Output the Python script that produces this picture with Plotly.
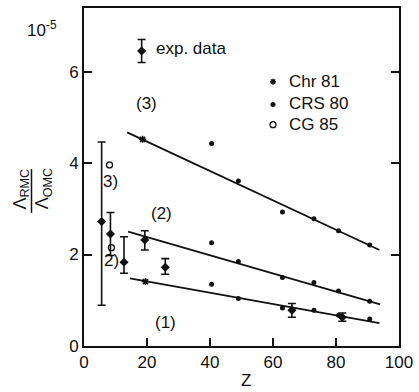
import plotly.graph_objects as go

# ---------------- data (Z, ratio in units of 1e-5) ----------------
# fitted lines (end points)
line1_z = [14.6, 93.8]
line1_y = [1.48, 0.50]
line2_z = [14.0, 94.0]
line2_y = [2.50, 0.91]
line3_z = [13.7, 93.8]
line3_y = [4.67, 2.10]

# Chr 81 (stars)
chr_z = [18.6, 19.5]
chr_y = [4.52, 1.41]

# CRS 80 (dots)
crs_z = [40.5, 49, 63, 73, 80.8, 90.7,
         40.5, 49, 63, 73, 80.8, 90.7,
         40.5, 49, 63, 73, 80.8, 90.7]
crs_y = [4.43, 3.61, 2.93, 2.78, 2.52, 2.21,
         2.26, 1.85, 1.50, 1.39, 1.20, 0.98,
         1.35, 1.04, 0.83, 0.78, 0.67, 0.59]

# CG 85 (open circles)
cg_z = [8.1, 8.7]
cg_y = [3.96, 2.15]

# experimental data with error bars
exp_z = [5.6, 8.4, 12.7, 19.3, 25.8, 66.0, 82.0]
exp_y = [2.72, 2.45, 1.83, 2.32, 1.72, 0.78, 0.63]
exp_up = [1.74, 0.47, 0.56, 0.20, 0.19, 0.15, 0.09]
exp_dn = [1.83, 0.47, 0.24, 0.22, 0.15, 0.15, 0.09]

x_ticks = [0, 20, 40, 60, 80, 100]
y_ticks = [0, 2, 4, 6]

# ---------------- layout helpers ----------------
FIG_W, FIG_H = 419, 392
ML, MR, MT, MB = 84, 17, 6, 46
PW, PH = FIG_W - ML - MR, FIG_H - MT - MB


def px(x):
    return (x - ML) / PW


def py(y):
    return (FIG_H - MB - y) / PH


FONT = "Liberation Sans"
BLACK = "#111111"

fig = go.Figure()

for zz, yy in [(line1_z, line1_y), (line2_z, line2_y), (line3_z, line3_y)]:
    fig.add_trace(go.Scatter(x=zz, y=yy, mode="lines",
                             line=dict(color=BLACK, width=1.8),
                             showlegend=False, hoverinfo="skip"))

fig.add_trace(go.Scatter(x=crs_z, y=crs_y, mode="markers",
                         marker=dict(color=BLACK, size=5),
                         showlegend=False))
fig.add_trace(go.Scatter(x=chr_z, y=chr_y, mode="markers",
                         marker=dict(symbol="asterisk-open", size=6, color=BLACK,
                                     line=dict(color=BLACK, width=1.6)),
                         showlegend=False))
fig.add_trace(go.Scatter(x=cg_z, y=cg_y, mode="markers",
                         marker=dict(symbol="circle-open", size=6, color=BLACK,
                                     line=dict(color=BLACK, width=1.3)),
                         showlegend=False))
fig.add_trace(go.Scatter(x=exp_z, y=exp_y, mode="markers",
                         marker=dict(symbol="diamond", size=7, color=BLACK),
                         error_y=dict(type="data", symmetric=False,
                                      array=exp_up, arrayminus=exp_dn,
                                      color=BLACK, thickness=1.6, width=4),
                         showlegend=False))

# legend keys
key_z = [18.3]
key_y = [6.45]
fig.add_trace(go.Scatter(x=key_z, y=key_y, mode="markers",
                         marker=dict(symbol="diamond", size=7, color=BLACK),
                         error_y=dict(type="data", array=[0.25],
                                      color=BLACK, thickness=1.6, width=4),
                         showlegend=False, hoverinfo="skip"))
leg_z = [60.0]
leg_y = [5.78, 5.28, 4.84]
fig.add_trace(go.Scatter(x=leg_z, y=leg_y[:1], mode="markers",
                         marker=dict(symbol="asterisk-open", size=5, color=BLACK,
                                     line=dict(color=BLACK, width=1.5)),
                         showlegend=False, hoverinfo="skip"))
fig.add_trace(go.Scatter(x=leg_z, y=leg_y[1:2], mode="markers",
                         marker=dict(color=BLACK, size=5),
                         showlegend=False, hoverinfo="skip"))
fig.add_trace(go.Scatter(x=leg_z, y=leg_y[2:3], mode="markers",
                         marker=dict(symbol="circle-open", size=6, color=BLACK,
                                     line=dict(color=BLACK, width=1.3)),
                         showlegend=False, hoverinfo="skip"))

ann = []


def text(x, y, t, size=17, xanchor="center", angle=0):
    ann.append(dict(xref="paper", yref="paper", x=px(x), y=py(y), text=t,
                    showarrow=False, xanchor=xanchor, yanchor="middle",
                    textangle=angle,
                    font=dict(family=FONT, size=size, color=BLACK)))


text(155, 47, "exp. data", xanchor="left")
text(289, 80, "Chr 81", xanchor="left")
text(289, 102, "CRS 80", xanchor="left")
text(289, 123, "CG 85", xanchor="left")
text(147, 102, "(3)", size=17)
text(162, 213, "(2)", size=17)
text(166, 322, "(1)", size=17)
text(111, 181, "3)", size=17)
text(112, 260, "2)", size=17)
text(42, 27, "10<sup>-5</sup>", size=17)
text(248, 381, "Z", size=17)
text(21, 188, "Λ<sub>RMC</sub>", size=18, angle=-90)
text(44, 188, "Λ<sub>OMC</sub>", size=18, angle=-90)

fig.add_shape(type="line", xref="paper", yref="paper",
              x0=px(31), x1=px(31), y0=py(168), y1=py(212),
              line=dict(color=BLACK, width=1.5))

fig.update_layout(
    width=FIG_W, height=FIG_H,
    margin=dict(l=ML, r=MR, t=MT, b=MB),
    paper_bgcolor="white", plot_bgcolor="white",
    font=dict(family=FONT, size=17, color=BLACK),
    annotations=ann,
    showlegend=False,
)
fig.update_xaxes(range=[0, 100], tickvals=x_ticks, ticktext=[str(v) for v in x_ticks],
                 showgrid=False, zeroline=False, showline=True, linecolor=BLACK,
                 linewidth=2, mirror=True, ticks="inside", ticklen=8,
                 tickwidth=1.6, tickcolor=BLACK,
                 tickfont=dict(family=FONT, size=17, color=BLACK))
fig.update_yaxes(range=[0, 7.39], tickvals=y_ticks, ticktext=[str(v) for v in y_ticks],
                 showgrid=False, zeroline=False, showline=True, linecolor=BLACK,
                 linewidth=2, mirror="ticks", ticks="inside", ticklen=8,
                 tickwidth=1.6, tickcolor=BLACK,
                 tickfont=dict(family=FONT, size=17, color=BLACK))

fig.write_html("out.html")
